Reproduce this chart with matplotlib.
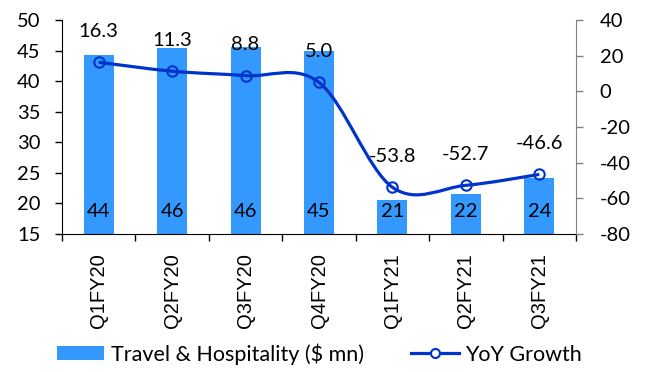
import matplotlib
matplotlib.use("Agg")
import matplotlib.pyplot as plt
from matplotlib.path import Path
from matplotlib.patches import PathPatch, Patch
from matplotlib.lines import Line2D
import numpy as np

plt.rcParams['font.family'] = ['Lato', 'DejaVu Sans']
plt.rcParams['axes.unicode_minus'] = False

categories = ["Q1FY20", "Q2FY20", "Q3FY20", "Q4FY20", "Q1FY21", "Q2FY21", "Q3FY21"]
revenue = [44.3, 45.5, 45.6, 45.0, 20.5, 21.5, 24.2]
revenue_labels = ["44", "46", "46", "45", "21", "22", "24"]
growth = [16.3, 11.3, 8.8, 5.0, -53.8, -52.7, -46.6]
growth_labels = ["16.3", "11.3", "8.8", "5.0", "-53.8", "-52.7", "-46.6"]

bar_color = "#3399FF"
line_color = "#0033CC"
fs = 14.5

fig = plt.figure(figsize=(6.49, 3.72), dpi=100)
ax = fig.add_axes([62/649, 1-234/372, (576-62)/649, (234-20)/372])
ax2 = ax.twinx()

x = np.arange(len(categories))
ax.bar(x, revenue, width=0.41, color=bar_color, zorder=2)
ax.set_ylim(15, 50)
ax.set_yticks(range(15, 51, 5))
ax.set_xlim(-0.5, len(categories) - 0.5)
ax.set_xticks(x)
ax.set_xticklabels(categories, rotation=90, fontsize=14.5, family=['Liberation Sans', 'DejaVu Sans'])
ax.tick_params(axis='x', which='major', length=0, pad=13.5)
ax.set_xticks(np.arange(-0.5, len(categories), 1.0), minor=True)
ax.tick_params(axis='x', which='minor', length=5, direction='out', width=1)
ax.tick_params(axis='y', labelsize=fs, length=5, width=1, pad=10.5)
for s in ['top', 'right']:
    ax.spines[s].set_visible(False)
ax.spines['left'].set_color('black')
ax.spines['bottom'].set_color('black')

for xi, lab in zip(x, revenue_labels):
    ax.text(xi, 18.7, lab, ha='center', va='center', fontsize=fs, color='black', zorder=5)

# right axis
ax2.set_ylim(-80, 40)
ax2.set_yticks(range(-80, 41, 20))
ax2.tick_params(axis='y', labelsize=fs, length=5, width=1, color='#808080', pad=12)
for s in ['top', 'left', 'bottom']:
    ax2.spines[s].set_visible(False)
ax2.spines['right'].set_color('#808080')

# smooth line (Catmull-Rom style Bezier through the data points)
pts = np.column_stack([x, growth]).astype(float)
n = len(pts)
verts = [tuple(pts[0])]
codes = [Path.MOVETO]
for i in range(n - 1):
    p0 = pts[i - 1] if i > 0 else pts[i]
    p1 = pts[i]
    p2 = pts[i + 1]
    p3 = pts[i + 2] if i + 2 < n else pts[i + 1]
    c1 = p1 + (p2 - p0) / 6.0
    c2 = p2 - (p3 - p1) / 6.0
    verts += [tuple(c1), tuple(c2), tuple(p2)]
    codes += [Path.CURVE4] * 3
patch = PathPatch(Path(verts, codes), facecolor='none', edgecolor=line_color, lw=2.3, zorder=3)
ax2.add_patch(patch)
ax2.plot(x, growth, linestyle='none', marker='o', markersize=7.5, markerfacecolor='none',
         markeredgecolor=line_color, markeredgewidth=1.5, zorder=4)
for xi, g, lab in zip(x, growth, growth_labels):
    ax2.annotate(lab, (xi, g), xytext=(0, 31), textcoords='offset pixels',
                 ha='center', va='center', fontsize=fs, color='black', zorder=5)

handles = [Patch(facecolor=bar_color, edgecolor='none'),
           Line2D([0], [0], color=line_color, lw=2.3, marker='o', markersize=6.5,
                  markerfacecolor='white', markeredgecolor=line_color, markeredgewidth=1.5)]
fig.legend(handles, ["Travel & Hospitality ($ mn)", "YoY Growth"], loc='center left',
           bbox_to_anchor=(57/649, 1-354/372), ncol=2, frameon=False, fontsize=15.5,
           borderpad=0, borderaxespad=0,
           handlelength=2.2, handleheight=0.65, columnspacing=2.2, handletextpad=0.3)

fig.savefig("out.png", dpi=100)
